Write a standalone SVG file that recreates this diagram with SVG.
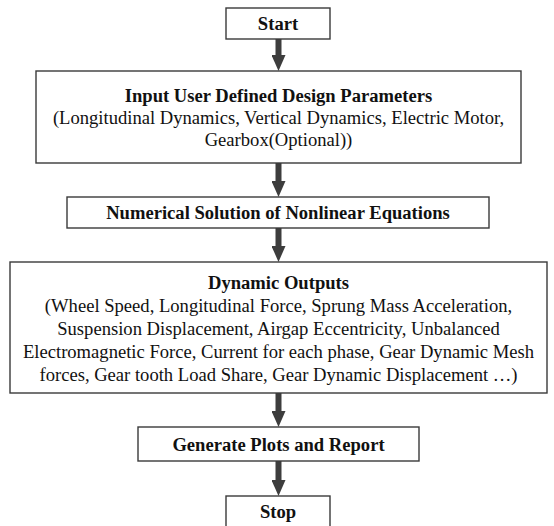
<svg xmlns="http://www.w3.org/2000/svg" width="554" height="526" viewBox="0 0 554 526">
<style>
.box{fill:#fff;stroke:#3a3a3a;stroke-width:1.4}
.t{font-family:"Liberation Serif","Times New Roman",serif;font-size:18.6px;fill:#111;text-anchor:middle}
.b{font-weight:bold}
.conn{stroke:#3d3d3d;stroke-width:6;fill:none}
</style>
<defs>
<marker id="ah" markerUnits="userSpaceOnUse" markerWidth="16" markerHeight="14" viewBox="0 0 16 14" refX="0" refY="7" orient="auto">
<path d="M0,0 L16,7 L0,14 z" fill="#3d3d3d"/>
</marker>
</defs>
<rect width="554" height="526" fill="#fff"/>
<g id="connectors">
<line class="conn" x1="278.5" y1="39" x2="278.5" y2="55" marker-end="url(#ah)"/>
<line class="conn" x1="278.5" y1="163" x2="278.5" y2="181" marker-end="url(#ah)"/>
<line class="conn" x1="278.5" y1="228" x2="278.5" y2="246" marker-end="url(#ah)"/>
<line class="conn" x1="278.5" y1="393" x2="278.5" y2="411" marker-end="url(#ah)"/>
<line class="conn" x1="278.5" y1="461" x2="278.5" y2="480" marker-end="url(#ah)"/>
</g>
<g id="start">
<rect class="box" x="226" y="8" width="104" height="31"/>
<text class="t b" x="278" y="30">Start</text>
</g>
<g id="input">
<rect class="box" x="36" y="71" width="485" height="92"/>
<text class="t b" x="278.5" y="102">Input User Defined Design Parameters</text>
<text class="t" x="278.5" y="124">(Longitudinal Dynamics, Vertical Dynamics, Electric Motor,</text>
<text class="t" x="278.5" y="146">Gearbox(Optional))</text>
</g>
<g id="numerical">
<rect class="box" x="67" y="197" width="422" height="31"/>
<text class="t b" x="278" y="219">Numerical Solution of Nonlinear Equations</text>
</g>
<g id="outputs">
<rect class="box" x="10" y="262" width="537" height="131"/>
<text class="t b" x="278.5" y="289">Dynamic Outputs</text>
<text class="t" x="278.5" y="312">(Wheel Speed, Longitudinal Force, Sprung Mass Acceleration,</text>
<text class="t" x="278.5" y="335">Suspension Displacement, Airgap Eccentricity, Unbalanced</text>
<text class="t" x="278.5" y="358">Electromagnetic Force, Current for each phase, Gear Dynamic Mesh</text>
<text class="t" x="278.5" y="381">forces, Gear tooth Load Share, Gear Dynamic Displacement …)</text>
</g>
<g id="report">
<rect class="box" x="138" y="427" width="281" height="34"/>
<text class="t b" x="278.5" y="451">Generate Plots and Report</text>
</g>
<g id="stop">
<rect class="box" x="226" y="496" width="104" height="34"/>
<text class="t b" x="278" y="518">Stop</text>
</g>
</svg>
